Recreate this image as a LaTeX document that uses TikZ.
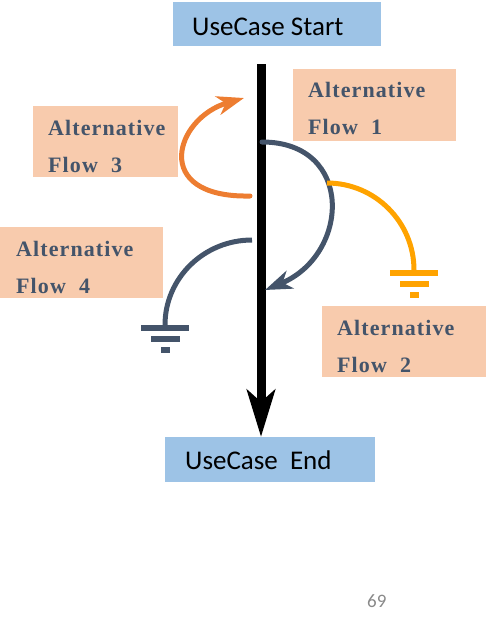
\documentclass[tikz,border=0pt]{standalone}
\usepackage{fontspec}
\setmainfont{Liberation Serif}
\newfontfamily\casefont{Carlito}
\newfontfamily\altfont[LetterSpace=5]{Liberation Serif}
\usetikzlibrary{positioning, arrows.meta, calc}
\definecolor{caseblue}{RGB}{157,195,230}
\definecolor{altpeach}{RGB}{248,203,173}
\definecolor{slate}{RGB}{68,84,106}
\definecolor{alt3c}{RGB}{237,125,49}
\definecolor{alt2c}{RGB}{255,163,0}
\definecolor{pagegrey}{RGB}{137,137,137}

\begin{document}
\begin{tikzpicture}[x=1pt, y=-1pt,
  box/.style={anchor=north west, inner sep=0pt, outer sep=0pt},
  case/.style={box, fill=caseblue},
  alt/.style={box, fill=altpeach},
  casetext/.style={anchor=base west, inner sep=0pt, font=\casefont\fontsize{27}{30}\selectfont},
  alttext/.style={anchor=base west, inner sep=0pt, text=slate, font=\altfont\bfseries\fontsize{22}{26}\selectfont},
  flow/.style={line width=5pt, line cap=round},
  head/.style={-{Stealth[length=27pt, width=19pt, inset=8pt]}},
  ground/.pic={
    \fill[pic actions] (-24,0) rectangle (24,6);
    \fill[pic actions] (-14.5,11) rectangle (14.5,17);
    \fill[pic actions] (-4.5,22) rectangle (4.5,28);
  }]
\useasboundingbox (0,0) rectangle (486,624);
% use case boxes
\node[case, minimum width=208pt, minimum height=44pt] (start) at (173,2) {};
\node[casetext] (startlbl) at (192,35) {UseCase Start};
\node[case, minimum width=210pt, minimum height=45pt] (end) at (165,437) {};
\node[casetext] (endlbl) at (185,469) {UseCase\ \ End};
% alternative flow boxes
\node[alt, minimum width=163pt, minimum height=72pt] (alt1) at (293,69) {};
\node[alttext] (alt1a) at (308,97) {Alternative};
\node[alttext] (alt1b) at (308,134) {Flow\ \ 1};
\node[alt, minimum width=145pt, minimum height=71pt] (alt3) at (33,106) {};
\node[alttext] (alt3a) at (48,135) {Alternative};
\node[alttext] (alt3b) at (48,172) {Flow\ \ 3};
\node[alt, minimum width=163pt, minimum height=71pt] (alt4) at (0,227) {};
\node[alttext] (alt4a) at (16,256) {Alternative};
\node[alttext] (alt4b) at (16,293) {Flow\ \ 4};
\node[alt, minimum width=164pt, minimum height=71pt] (alt2) at (322,306) {};
\node[alttext] (alt2a) at (337,335) {Alternative};
\node[alttext] (alt2b) at (337,372) {Flow\ \ 2};
% main flow
\coordinate (top) at (261,64);
\coordinate (bottom) at (261,437);
\draw[line width=9pt, -{Stealth[length=47pt, width=28pt, inset=12pt]}] (top) -- (bottom);
% flow 1
\coordinate (f1s) at (262,142);
\coordinate (f1e) at (265,290);
\draw[flow, slate, head] (f1s) .. controls (355,142) and (350,255) .. (f1e);
% flow 3
\coordinate (f3s) at (250,196);
\coordinate (f3e) at (244,98);
\draw[flow, alt3c, head] (f3s) .. controls (150,198) and (175,118) .. (f3e);
% flow 2
\coordinate (f2s) at (327,183);
\coordinate (g2) at (414,270);
\draw[flow, alt2c, line cap=butt] (f2s) .. controls (375,183) and (414,222) .. (g2);
\pic[fill=alt2c] at (g2) {ground};
% flow 4
\coordinate (f4s) at (252,240);
\coordinate (g4) at (165,325);
\draw[flow, slate, line cap=butt] (f4s) .. controls (204,240) and (165,278) .. (g4);
\pic[fill=slate] at (g4) {ground};
% page number
\node[anchor=base west, inner sep=0pt, text=pagegrey, font=\casefont\fontsize{19}{22}\selectfont] (page) at (367,607) {69};
\end{tikzpicture}
\end{document}
